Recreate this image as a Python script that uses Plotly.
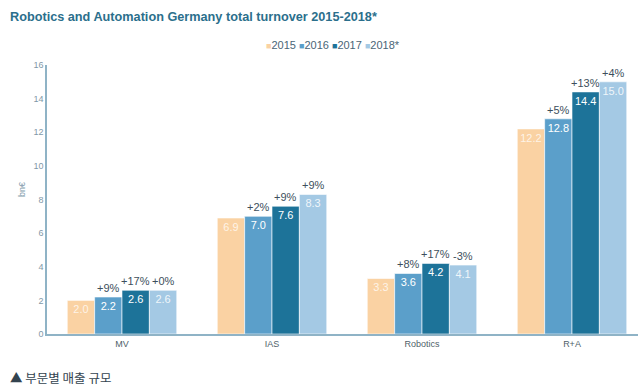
import plotly.graph_objects as go

categories = ["MV", "IAS", "Robotics", "R+A"]
years = ["2015", "2016", "2017", "2018*"]
v2015 = [2.0, 6.9, 3.3, 12.2]
v2016 = [2.2, 7.0, 3.6, 12.8]
v2017 = [2.6, 7.6, 4.2, 14.4]
v2018 = [2.6, 8.3, 4.1, 15.0]
g2016 = ["+9%", "+2%", "+8%", "+5%"]
g2017 = ["+17%", "+9%", "+17%", "+13%"]
g2018 = ["+0%", "+9%", "-3%", "+4%"]
y_ticks = [0, 2, 4, 6, 8, 10, 12, 14, 16]

colors = ["#FAD2A3", "#5B9FCA", "#1D7399", "#A4C9E4"]
series = [v2015, v2016, v2017, v2018]
growth = [None, g2016, g2017, g2018]
text_colors = ["rgba(255,255,255,0.75)", "white", "white", "rgba(255,255,255,0.85)"]

W, H = 638, 387
L, R, T, B = 47, 0, 65, 53
pw, ph = W - L - R, H - T - B


def px(x):
    return (x - L) / pw


def py(y):
    return (H - B - y) / ph


bargap = 0.27
n = len(series)
bw = (1 - bargap) / n

fig = go.Figure()
for i, (yr, vals) in enumerate(zip(years, series)):
    fig.add_trace(go.Bar(
        name=yr, x=list(range(len(categories))), y=vals,
        marker=dict(color=colors[i], line=dict(color="white", width=0.6)),
        text=[f"{v:.1f}" for v in vals], textposition="inside",
        insidetextanchor="end", textangle=0,
        textfont=dict(color=text_colors[i], size=11, family="Liberation Sans"),
        cliponaxis=False, showlegend=False,
    ))

annotations = []
for i in range(1, n):
    off = (i - (n - 1) / 2) * bw
    for j, lab in enumerate(growth[i]):
        annotations.append(dict(
            x=j + off, y=series[i][j], xref="x", yref="y", text=lab,
            showarrow=False, yanchor="bottom", yshift=1,
            font=dict(size=11, color="#3d4f5c", family="Liberation Sans"),
        ))

annotations.append(dict(
    x=px(8), y=py(17), xref="paper", yref="paper", xanchor="left", yanchor="middle",
    text="<b>Robotics and Automation Germany total turnover 2015-2018*</b>",
    showarrow=False, font=dict(size=12.7, color="#2B6F8C", family="Liberation Sans"),
))
annotations.append(dict(
    x=px(8), y=py(377), xref="paper", yref="paper", xanchor="left", yanchor="middle",
    text="▲ 부문별 매출 규모",
    showarrow=False, font=dict(size=12.5, color="#33434f", family="Noto Sans CJK KR"),
))
annotations.append(dict(
    x=px(22), y=py(190), xref="paper", yref="paper", xanchor="center", yanchor="middle",
    text="bn€", textangle=-90,
    showarrow=False, font=dict(size=9, color="#7f9aab", family="Liberation Sans"),
))

legend_parts = []
for c, yr in zip(colors, years):
    legend_parts.append(f"<span style='color:{c};font-size:9px'>■</span>{yr}")
annotations.append(dict(
    x=px(264), y=py(45), xref="paper", yref="paper", xanchor="left", yanchor="middle",
    text=" ".join(legend_parts),
    showarrow=False, font=dict(size=11, color="#4a6577", family="Liberation Sans"),
))

fig.update_layout(
    width=W, height=H,
    margin=dict(l=L, r=R, t=T, b=B),
    paper_bgcolor="white", plot_bgcolor="white",
    barmode="group", bargap=bargap, bargroupgap=0,
    showlegend=False,
    xaxis=dict(range=[-0.5, 3.44], tickmode="array", tickvals=list(range(len(categories))),
               ticktext=categories, showgrid=False, zeroline=False,
               showline=True, linecolor="#8fb3c6", linewidth=1.5, ticks="",
               tickfont=dict(size=9, color="#4f5f6a", family="Liberation Sans")),
    yaxis=dict(range=[0, 16], tickmode="array", tickvals=y_ticks, showgrid=False,
               zeroline=False, showline=True, linecolor="#8fb3c6", linewidth=1.5,
               ticks="", ticklen=0,
               tickfont=dict(size=9, color="#7f98a8", family="Liberation Sans")),
    annotations=annotations,
    font=dict(family="Liberation Sans"),
    uniformtext=dict(minsize=8, mode="show"),
)

fig.write_html("out.html")
